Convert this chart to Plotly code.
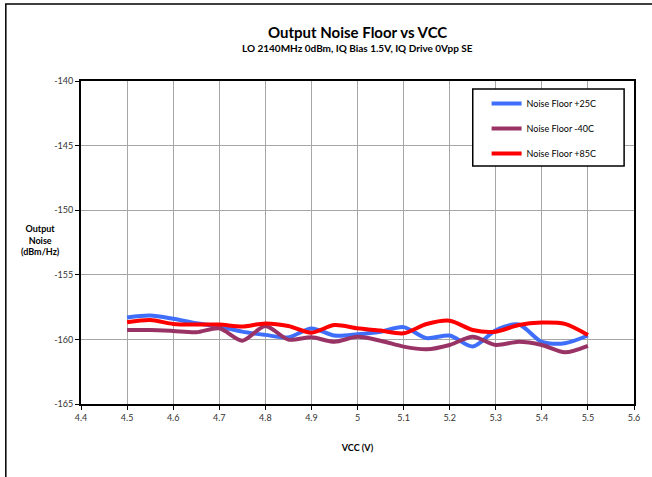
import plotly.graph_objects as go

vcc = [4.5, 4.55, 4.6, 4.65, 4.7, 4.75, 4.8, 4.85, 4.9, 4.95, 5.0,
       5.05, 5.1, 5.15, 5.2, 5.25, 5.3, 5.35, 5.4, 5.45, 5.5]
nf_25c = [-158.3, -158.15, -158.4, -158.75, -159.0, -159.4, -159.65, -159.85, -159.15, -159.7, -159.6,
          -159.4, -159.05, -159.9, -159.7, -160.55, -159.3, -158.85, -160.2, -160.3, -159.7]
nf_m40c = [-159.27, -159.27, -159.35, -159.45, -159.14, -160.1, -158.96, -160.02, -159.84, -160.18, -159.8,
           -160.1, -160.56, -160.77, -160.43, -159.8, -160.43, -160.18, -160.43, -161.0, -160.5]
nf_85c = [-158.68, -158.5, -158.8, -158.85, -158.85, -159.0, -158.76, -158.96, -159.48, -158.89, -159.14,
          -159.32, -159.53, -158.81, -158.55, -159.27, -159.4, -158.88, -158.7, -158.8, -159.66]

x_ticks = [4.4, 4.5, 4.6, 4.7, 4.8, 4.9, 5.0, 5.1, 5.2, 5.3, 5.4, 5.5, 5.6]
x_tick_labels = ["4.4", "4.5", "4.6", "4.7", "4.8", "4.9", "5", "5.1", "5.2", "5.3", "5.4", "5.5", "5.6"]
y_ticks = [-165, -160, -155, -150, -145, -140]
y_tick_labels = ["-165", "-160", "-155", "-150", "-145", "-140"]

series = [
    ("Noise Floor +25C", nf_25c, "#3F6EFA"),
    ("Noise Floor -40C", nf_m40c, "#993366"),
    ("Noise Floor +85C", nf_85c, "#FF0000"),
]

FONT = "Lato"
L, R, T, B = 81, 640, 81, 404
PW, PH = R - L, B - T


def px(x):
    return (x - L) / PW


def py(y):
    return (B - y) / PH


fig = go.Figure()
for i, (name, ys, col) in enumerate(series):
    fig.add_trace(go.Scatter(x=vcc, y=ys, name=name, mode="lines", legendgroup=f"g{i}",
                             line=dict(color=col, width=4, shape="spline", smoothing=0.8)))

fig.update_layout(
    width=652, height=477,
    margin=dict(l=L, r=652 - R, t=T, b=477 - B),
    paper_bgcolor="white", plot_bgcolor="white",
    font=dict(family=FONT, size=9, color="#222222"),
    showlegend=True,
    legend=dict(x=px(491), y=py(89), xanchor="left", yanchor="top",
                bgcolor="rgba(0,0,0,0)", borderwidth=0,
                font=dict(family=FONT, size=9, color="black"),
                itemwidth=30, tracegroupgap=6),
    xaxis=dict(range=[4.4, 5.6], tickvals=x_ticks, ticktext=x_tick_labels,
               showgrid=True, gridcolor="#A6A6A6", gridwidth=1,
               showline=True, linecolor="black", linewidth=2, mirror=True,
               ticks="outside", ticklen=4, tickcolor="black",
               tickfont=dict(size=9, color="#333333"), zeroline=False,
               title=dict(text="<b>VCC (V)</b>", font=dict(size=9, color="black"), standoff=23)),
    yaxis=dict(range=[-165, -140], tickvals=y_ticks, ticktext=y_tick_labels,
               showgrid=True, gridcolor="#A6A6A6", gridwidth=1,
               showline=True, linecolor="black", linewidth=2, mirror=True,
               ticks="outside", ticklen=4, tickcolor="black",
               tickfont=dict(size=9, color="#333333"), zeroline=False),
    annotations=[
        dict(text="<b>Output Noise Floor vs VCC</b>", xref="paper", yref="paper",
             x=0.5, y=py(32), xanchor="center", yanchor="middle",
             showarrow=False, font=dict(family=FONT, size=15, color="black")),
        dict(text="<b>LO 2140MHz 0dBm, IQ Bias 1.5V, IQ Drive 0Vpp SE</b>", xref="paper", yref="paper",
             x=0.5, y=py(48), xanchor="center", yanchor="middle",
             showarrow=False, font=dict(family=FONT, size=10, color="black")),
        dict(text="<b>Output<br>Noise<br>(dBm/Hz)</b>", xref="paper", yref="paper",
             x=px(40), y=py(240), xanchor="center", yanchor="middle",
             showarrow=False, font=dict(family=FONT, size=9, color="black")),
    ],
    shapes=[
        dict(type="rect", xref="paper", yref="paper",
             x0=px(5), x1=px(670), y0=py(490), y1=py(4),
             line=dict(color="black", width=1.5), layer="below"),
        dict(type="rect", xref="paper", yref="paper",
             x0=px(477), x1=px(630), y0=py(166), y1=py(89),
             line=dict(color="black", width=1.5), fillcolor="white", layer="above"),
    ],
)

fig.write_html("out.html", config={"displayModeBar": False},
               post_script="document.body.style.margin='0';document.body.style.overflow='hidden';")
